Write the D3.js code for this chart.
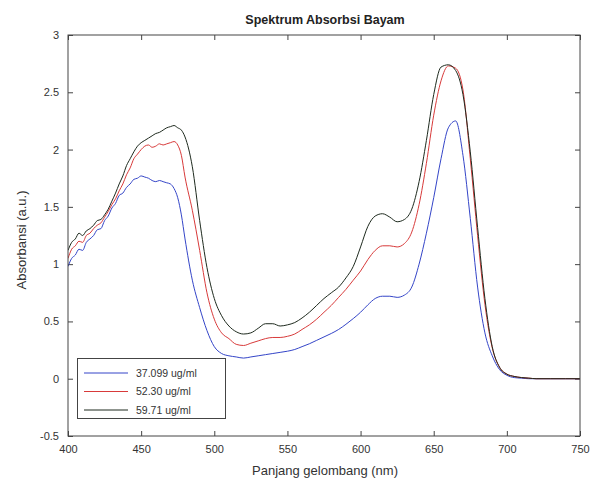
<!DOCTYPE html>
<html><head><meta charset="utf-8">
<script src="https://cdn.jsdelivr.net/npm/d3@7"></script>
<style>body{margin:0;background:#fff}svg{display:block}text{font-family:"Liberation Sans",Arial,sans-serif}</style>
</head><body><svg id="c" width="595" height="489"></svg>
<script>
const title = "Spektrum Absorbsi Bayam";
const xLabel = "Panjang gelombang (nm)";
const yLabel = "Absorbansi (a.u.)";
const seriesNames = ["37.099 ug/ml", "52.30 ug/ml", "59.71 ug/ml"];
const seriesColors = ["#3445c8", "#d83a3a", "#1e2a1e"];
const xTicks = [400, 450, 500, 550, 600, 650, 700, 750];
const yTicks = [-0.5, 0, 0.5, 1, 1.5, 2, 2.5, 3];
const wavelength = [400,402.5,405,407.5,410,412.5,415,417.5,420,422.5,425,427.5,430,432.5,435,437.5,440,442.5,445,447.5,450,452.5,455,457.5,460,462.5,465,467.5,470,472.5,475,477.5,480,
  485,490,495,500,505,510,515,520,525,530,535,540,545,550,555,560,565,570,575,580,585,590,595,600,605,610,615,620,625,630,635,640,645,650,655,660,665,670,675,680,685,690,695,700,705,710,715,720,730,740,750];
const conc37 = [0.98,1.05,1.08,1.13,1.12,1.19,1.22,1.25,1.30,1.31,1.38,1.42,1.49,1.53,1.60,1.62,1.67,1.70,1.74,1.75,1.77,1.76,1.75,1.73,1.72,1.73,1.72,1.71,1.70,1.66,1.58,1.43,1.22,
  0.86,0.62,0.42,0.28,0.22,0.20,0.19,0.18,0.19,0.20,0.21,0.22,0.23,0.24,0.255,0.28,0.305,0.335,0.365,0.395,0.43,0.475,0.525,0.58,0.645,0.70,0.72,0.72,0.71,0.73,0.80,1.00,1.27,1.58,1.92,2.19,2.25,1.95,1.40,0.80,0.40,0.20,0.08,0.03,0.01,0.005,0,0,0,0,0];
const conc52 = [1.05,1.13,1.16,1.20,1.19,1.25,1.27,1.31,1.34,1.36,1.41,1.46,1.52,1.57,1.64,1.70,1.78,1.84,1.92,1.96,2.00,2.03,2.04,2.02,2.03,2.05,2.04,2.05,2.06,2.07,2.04,1.95,1.76,
  1.47,1.12,0.75,0.52,0.40,0.35,0.30,0.29,0.31,0.33,0.35,0.36,0.36,0.37,0.39,0.43,0.47,0.52,0.58,0.64,0.71,0.78,0.86,0.94,1.04,1.12,1.16,1.16,1.15,1.18,1.28,1.52,1.88,2.30,2.60,2.73,2.71,2.52,1.92,1.25,0.65,0.27,0.10,0.04,0.02,0.01,0.005,0,0,0,0];
const conc59 = [1.12,1.19,1.22,1.27,1.25,1.29,1.31,1.34,1.38,1.39,1.43,1.48,1.55,1.62,1.70,1.77,1.86,1.92,1.98,2.03,2.06,2.08,2.10,2.12,2.14,2.15,2.17,2.19,2.20,2.21,2.19,2.17,2.11,
  1.85,1.38,0.97,0.70,0.55,0.46,0.41,0.39,0.40,0.44,0.48,0.48,0.46,0.47,0.49,0.53,0.58,0.64,0.70,0.75,0.80,0.88,0.98,1.15,1.33,1.42,1.44,1.41,1.37,1.39,1.48,1.72,2.08,2.48,2.72,2.74,2.69,2.48,1.98,1.32,0.70,0.28,0.10,0.04,0.02,0.01,0.005,0,0,0,0];
const seriesValues = [conc37, conc52, conc59];

const svg = d3.select("#c");
const L = 68, R = 580, T = 35, B = 436;
const x = d3.scaleLinear().domain([400, 750]).range([L, R]);
const y = d3.scaleLinear().domain([-0.5, 3]).range([B, T]);
const axisColor = "#444", txtColor = "#333";

function styleAxis(g){
  g.select(".domain").remove();
  g.selectAll(".tick line").attr("stroke", axisColor);
  g.selectAll(".tick text").attr("fill", txtColor).attr("font-size", "11px");
}
svg.append("g").attr("transform", `translate(0,${B})`)
  .call(d3.axisBottom(x).tickValues(xTicks).tickSize(-5).tickPadding(9).tickFormat(d3.format("d"))).call(styleAxis);
svg.append("g").attr("transform", `translate(0,${T})`)
  .call(d3.axisTop(x).tickValues(xTicks).tickSize(-5).tickFormat("")).call(styleAxis);
svg.append("g").attr("transform", `translate(${L},0)`)
  .call(d3.axisLeft(y).tickValues(yTicks).tickSize(-5).tickPadding(9).tickFormat(d => String(d))).call(styleAxis);
svg.append("g").attr("transform", `translate(${R},0)`)
  .call(d3.axisRight(y).tickValues(yTicks).tickSize(-5).tickFormat("")).call(styleAxis);

const line = d3.line().x((d,i) => x(wavelength[i])).y(d => y(d)).curve(d3.curveMonotoneX);
svg.append("clipPath").attr("id","pc").append("rect").attr("x",L).attr("y",T).attr("width",R-L).attr("height",B-T);
seriesValues.forEach((vals, k) => {
  svg.append("path").datum(vals).attr("d", line).attr("fill","none")
    .attr("stroke", seriesColors[k]).attr("stroke-width", 1).attr("clip-path","url(#pc)");
});

svg.append("rect").attr("x", L).attr("y", T).attr("width", R-L).attr("height", B-T)
  .attr("fill","none").attr("stroke", axisColor).attr("stroke-width", 1);

const lg = svg.append("g");
lg.append("rect").attr("x", 77.5).attr("y", 358.5).attr("width", 148).attr("height", 60)
  .attr("fill","#fff").attr("stroke", axisColor).attr("stroke-width", 1);
seriesNames.forEach((n, k) => {
  const yy = 373 + k*18.5;
  lg.append("line").attr("x1", 84).attr("x2", 128).attr("y1", yy).attr("y2", yy)
    .attr("stroke", seriesColors[k]).attr("stroke-width", 1);
  lg.append("text").attr("x", 136).attr("y", yy + 3.8).attr("font-size", "10.5px").attr("fill", txtColor).text(n);
});

svg.append("text").attr("x", 325).attr("y", 24).attr("text-anchor","middle").attr("font-weight","bold")
  .attr("font-size","12.5px").attr("fill","#222").text(title);
svg.append("text").attr("x", 325).attr("y", 475).attr("text-anchor","middle")
  .attr("font-size","13px").attr("fill",txtColor).text(xLabel);
svg.append("text").attr("transform","translate(26,240) rotate(-90)").attr("text-anchor","middle")
  .attr("font-size","13px").attr("fill",txtColor).text(yLabel);
</script></body></html>
